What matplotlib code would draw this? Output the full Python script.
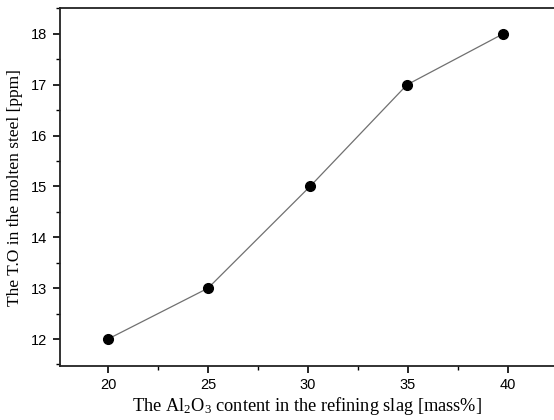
import matplotlib
matplotlib.use('Agg')
import matplotlib.pyplot as plt
from matplotlib.ticker import MultipleLocator

# data
al2o3 = [20.0, 25.0, 30.1, 34.95, 39.75]
total_o = [12.0, 13.0, 15.0, 17.0, 18.0]

plt.rcParams['mathtext.fontset'] = 'custom'
plt.rcParams['mathtext.rm'] = 'Liberation Serif'
plt.rcParams['mathtext.it'] = 'Liberation Serif:italic'

fig = plt.figure(figsize=(5.54, 4.2), dpi=100)
ax = fig.add_axes([0.1083, 0.1286, 0.8917, 0.8512])

ax.plot(al2o3, total_o, color='#707070', lw=0.9, zorder=1)
ax.plot(al2o3, total_o, 'o', color='black', ms=7, zorder=2)

ax.set_xlim(17.6, 42.3)
ax.set_ylim(11.47, 18.5)
ax.xaxis.set_major_locator(MultipleLocator(5))
ax.xaxis.set_minor_locator(MultipleLocator(2.5))
ax.yaxis.set_major_locator(MultipleLocator(1))
ax.yaxis.set_minor_locator(MultipleLocator(0.5))

ax.spines['right'].set_visible(False)
for s in ['left', 'bottom', 'top']:
    ax.spines[s].set_linewidth(1.3)
    ax.spines[s].set_color('#222222')

ax.tick_params(which='major', direction='out', length=5, width=1.2, labelsize=10.5, pad=4)
ax.tick_params(which='minor', direction='out', length=3, width=1.0)
for lab in ax.get_xticklabels() + ax.get_yticklabels():
    lab.set_family('Liberation Sans')

ax.set_xlabel(r'The Al$_2$O$_3$ content in the refining slag [mass%]',
              family='Liberation Serif', fontsize=13.2, labelpad=1.5)
ax.set_ylabel('The T.O in the molten steel [ppm]',
              family='Liberation Serif', fontsize=12.5, labelpad=6)

fig.savefig('out.png', dpi=100)
